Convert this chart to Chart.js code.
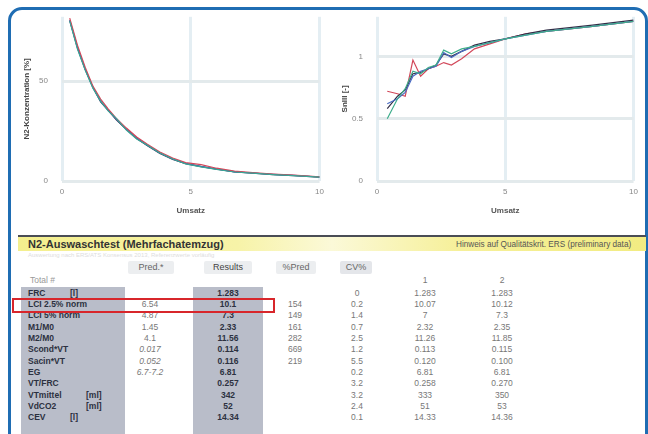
<!DOCTYPE html>
<html>
<head>
<meta charset="utf-8">
<script src="https://cdn.jsdelivr.net/npm/chart.js@4"></script>
<style>
  html, body { margin:0; padding:0; background:#fff; }
  body { width:648px; height:434px; position:relative; overflow:hidden; font-family:"Liberation Sans", Arial, sans-serif; }
  #card { position:absolute; left:8px; top:7px; width:634px; height:520px; border:3px solid #1f6db3; border-radius:14px; }
  canvas { position:absolute; }
  .abs { position:absolute; white-space:nowrap; }
  .shade { position:absolute; background:#b9bdc9; }
  .hdr { position:absolute; background:#eceef0; color:#666; font-size:9px; text-align:center; border-radius:2px; line-height:13px; }
  .cell { position:absolute; font-size:8.5px; line-height:11px; color:#777; text-align:center; width:60px; }
  .lbl { position:absolute; font-size:8.5px; line-height:11px; color:#2c3140; font-weight:bold; }
</style>
</head>
<body>
<div id="card"></div>
<canvas id="cWash" width="318" height="224" style="left:12px;top:-2px;width:318px;height:224px"></canvas>
<canvas id="cSlope" width="312" height="224" style="left:332px;top:-2px;width:312px;height:224px"></canvas>
<div id="tbl"></div>

<script>
// ---------- data ----------
const washX   = [0.3, 0.6, 0.9, 1.2, 1.5, 1.8, 2.1, 2.5, 2.9, 3.3, 3.8, 4.3, 4.8, 5.4, 6.0, 6.7, 7.4, 8.2, 9.0, 10.0];
const washA   = [80.7, 67, 56, 47, 40, 35.5, 31, 26, 21.5, 18, 14, 11, 8.8, 7.3, 6.0, 4.6, 4.0, 3.3, 2.8, 2.0];
const washB   = [81.5, 68, 57, 47.5, 41, 36, 31.5, 26.5, 22, 18.5, 14.5, 11.5, 9.2, 8.2, 6.4, 4.9, 4.2, 3.5, 2.9, 2.1];
const washC   = [80, 66, 55.5, 46.5, 40, 35, 31.5, 25.5, 21, 18, 14, 11, 8.6, 7.1, 5.8, 4.5, 3.9, 3.2, 2.7, 1.9];
const washD   = [80.3, 66.5, 55.8, 46.8, 39.6, 35.2, 30.8, 25.8, 21.3, 17.8, 13.8, 10.8, 8.7, 7.2, 5.9, 4.6, 3.9, 3.2, 2.7, 1.9];

const slopeX  = [0.4, 0.8, 1.1, 1.4, 1.7, 2.0, 2.3, 2.6, 2.9, 3.3, 3.8, 4.4, 5.0, 5.8, 6.6, 7.5, 8.4, 9.2, 10.0];
const slopeRed   = [0.72, 0.70, 0.68, 0.97, 0.84, 0.90, 0.92, 0.95, 0.93, 0.98, 1.06, 1.10, 1.14, 1.18, 1.20, 1.22, 1.24, 1.26, 1.28];
const slopeGreen = [0.50, 0.66, 0.74, 0.88, 0.86, 0.91, 0.93, 1.05, 1.02, 1.06, 1.08, 1.11, 1.14, 1.17, 1.20, 1.22, 1.24, 1.26, 1.28];
const slopeBlue  = [0.62, 0.66, 0.71, 0.84, 0.88, 0.90, 0.92, 1.03, 0.99, 1.04, 1.08, 1.11, 1.14, 1.17, 1.20, 1.22, 1.24, 1.26, 1.28];
const slopeDark  = [0.58, 0.68, 0.73, 0.86, 0.87, 0.90, 0.93, 1.02, 1.00, 1.04, 1.09, 1.12, 1.14, 1.18, 1.21, 1.23, 1.25, 1.27, 1.29];

const xTicks      = [0, 5, 10];
const washYTicks  = [0, 50];
const slopeYTicks = [0, 0.5, 1];

const rowLabels = ['FRC       [l]', 'LCI 2.5% norm', 'LCI 5% norm', 'M1/M0', 'M2/M0', 'Scond*VT', 'Sacin*VT', 'EG', 'VT/FRC', 'VTmittel  [ml]', 'VdCO2   [ml]', 'CEV      [l]'];
const predVals  = ['', '6.54', '4.87', '1.45', '4.1', '0.017', '0.052', '6.7-7.2', '', '', '', ''];
const results   = ['1.283', '10.1', '7.3', '2.33', '11.56', '0.114', '0.116', '6.81', '0.257', '342', '52', '14.34'];
const pctPred   = ['', '154', '149', '161', '282', '669', '219', '', '', '', '', ''];
const cvVals    = ['0', '0.2', '1.4', '0.7', '2.5', '1.2', '5.5', '0.2', '3.2', '3.2', '2.4', '0.1'];
const trial1    = ['1.283', '10.07', '7', '2.32', '11.26', '0.113', '0.120', '6.81', '0.258', '333', '51', '14.33'];
const trial2    = ['1.283', '10.12', '7.3', '2.35', '11.85', '0.115', '0.100', '6.81', '0.270', '350', '53', '14.36'];

// ---------- charts ----------
const pts = (xs, ys) => xs.map((x, i) => ({ x, y: ys[i] }));

function line(label, xs, ys, color) {
  return { label, data: pts(xs, ys), borderColor: color, borderWidth: 1.2, pointRadius: 0, showLine: true, fill: false, tension: 0 };
}

function axes(yTicks, yMax, yTitle, yWidth) {
  const grid = { color: '#e3eaec', lineWidth: 3, drawTicks: false };
  return {
    x: {
      type: 'linear', min: 0, max: 10,
      afterBuildTicks: s => { s.ticks = xTicks.map(v => ({ value: v })); },
      afterFit: s => { s.height = 41; },
      grid: { ...grid, color: '#e4eef3' },
      border: { display: false },
      ticks: { color: '#888', font: { size: 8 }, padding: 6 },
      title: { display: true, text: 'Umsatz', color: '#555', font: { size: 8, weight: 'bold' }, padding: { top: 4, bottom: 6 } }
    },
    y: {
      type: 'linear', min: 0, max: yMax,
      afterBuildTicks: s => { s.ticks = yTicks.map(v => ({ value: v })); },
      afterFit: s => { s.width = yWidth; },
      grid: grid,
      border: { display: false },
      ticks: { color: '#888', font: { size: 8 }, padding: 14, callback: v => String(v) },
      title: { display: true, text: yTitle, color: '#444', font: { size: 8, weight: 'bold' }, padding: 0 }
    }
  };
}

function makeChart(id, datasets, scales, padLeft, padRight) {
  new Chart(document.getElementById(id), {
    type: 'scatter',
    data: { datasets },
    options: {
      responsive: false, animation: false,
      layout: { padding: { top: 0, right: padRight, left: padLeft, bottom: 0 } },
      plugins: { legend: { display: false }, tooltip: { enabled: false } },
      scales
    }
  });
}

makeChart('cWash', [
  line('3', washX, washC, '#3aa596'),
  line('2', washX, washB, '#d2485a'),
  line('1', washX, washA, '#3f5fb0'),
  line('0', washX, washD, '#3a3552'),
], axes(washYTicks, 82.2, 'N2-Konzentration [%]', 40), 10, 10);

makeChart('cSlope', [
  line('green', slopeX, slopeGreen, '#3fae8c'),
  line('blue',  slopeX, slopeBlue,  '#4a6cc4'),
  line('dark',  slopeX, slopeDark,  '#343048'),
  line('red',   slopeX, slopeRed,   '#d2485a'),
], axes(slopeYTicks, 1.317, 'SnIII [-]', 37), 8, 7);

// ---------- table ----------
const tbl = document.getElementById('tbl');
function add(html) { tbl.insertAdjacentHTML('beforeend', html); }

add('<div class="abs" style="left:18px;top:235px;width:628px;height:2px;background:#4a4d55"></div>');
add('<div class="abs" style="left:18px;top:237px;width:628px;height:14px;background:linear-gradient(90deg,#f4ef8e 0%,#f7f3a8 35%,#fbf9d8 50%,#f6f09a 70%,#f2ec82 100%)"></div>');
add('<div class="abs" style="left:28px;top:237px;font-size:11px;line-height:14px;font-weight:bold;color:#333">N2-Auswaschtest (Mehrfachatemzug)</div>');
add('<div class="abs" style="left:456px;top:238px;font-size:8.2px;line-height:13px;color:#555">Hinweis auf Qualitätskrit. ERS (preliminary data)</div>');
add('<div class="abs" style="left:28px;top:252px;font-size:6px;color:#ddd">Auswertung nach ERS/ATS Konsensus 2013, Referenzwerte vorläufig</div>');

add('<div class="hdr" style="left:128px;top:261px;width:46px">Pred.*</div>');
add('<div class="hdr" style="left:204px;top:261px;width:48px;color:#444">Results</div>');
add('<div class="hdr" style="left:276px;top:261px;width:40px">%Pred</div>');
add('<div class="hdr" style="left:340px;top:261px;width:32px;background:#e4e6ea">CV%</div>');
add('<div class="abs" style="left:30px;top:275px;font-size:8.5px;color:#999">Total #</div>');
add('<div class="cell" style="left:395px;top:275px">1</div>');
add('<div class="cell" style="left:472px;top:275px">2</div>');

add('<div class="shade" style="left:21px;top:287px;width:104px;height:147px"></div>');
add('<div class="shade" style="left:193px;top:287px;width:70px;height:147px"></div>');

rowLabels.forEach((lab, i) => {
  const y = 287.5 + i * 11.36;
  const parts = lab.split(/\s{2,}/);
  add(`<div class="lbl" style="left:28px;top:${y}px">${parts[0]}</div>`);
  if (parts[1]) add(`<div class="lbl" style="left:${parts[1] === '[l]' ? 70 : 86}px;top:${y}px">${parts[1]}</div>`);
  const it = (i === 5 || i === 6 || i === 7) ? 'font-style:italic;' : '';
  add(`<div class="cell" style="left:120px;top:${y}px;${it}">${predVals[i]}</div>`);
  add(`<div class="cell" style="left:198px;top:${y}px;color:#2c3140;font-weight:bold">${results[i]}</div>`);
  add(`<div class="cell" style="left:265px;top:${y}px">${pctPred[i]}</div>`);
  add(`<div class="cell" style="left:327px;top:${y}px">${cvVals[i]}</div>`);
  add(`<div class="cell" style="left:395px;top:${y}px">${trial1[i]}</div>`);
  add(`<div class="cell" style="left:472px;top:${y}px">${trial2[i]}</div>`);
});

add('<div class="abs" style="left:12px;top:298px;width:259px;height:11px;border:2px solid #d8262b"></div>');
</script>
</body>
</html>
